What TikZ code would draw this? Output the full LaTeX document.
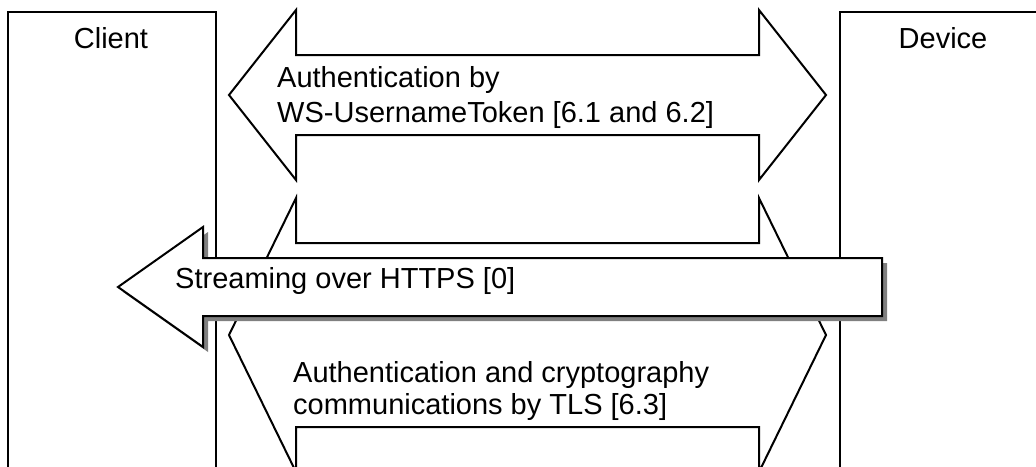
\documentclass[tikz,border=0pt]{standalone}
\usepackage{fontspec}
\setmainfont{Liberation Sans}
\begin{document}
\begin{tikzpicture}[x=1pt,y=-1pt,
  boxstyle/.style={draw=black, line width=2pt, fill=white, inner sep=0pt},
  arrowshape/.style={draw=black, line width=2pt, fill=white, line join=miter},
  shadowshape/.style={fill=black!50, draw=none},
  lbl/.style={inner sep=0pt, font=\fontsize{29}{34}\selectfont}]
\useasboundingbox (0,0) rectangle (1036,466);
\clip (0,0) rectangle (1036,466);
% boxes
\node[boxstyle, minimum width=208pt, minimum height=470pt, anchor=north west] (client) at (7,11) {};
\node[boxstyle, minimum width=208pt, minimum height=470pt, anchor=north west] (device) at (839,11) {};
\node[lbl, anchor=base] (clientlbl) at (111,48) {Client};
\node[lbl, anchor=base] (devicelbl) at (943,48) {Device};
% top double arrow
\draw[arrowshape] (229,95) -- (296,10) -- (296,55) -- (759,55) -- (759,10) -- (826,95)
  -- (759,180) -- (759,135) -- (296,135) -- (296,180) -- cycle;
\node[lbl, anchor=base west] (t1) at (277,87) {Authentication by};
\node[lbl, anchor=base west] (t2) at (277,122) {WS-UsernameToken [6.1 and 6.2]};
% bottom double arrow
\draw[arrowshape] (229,335) -- (296,198) -- (296,243) -- (759,243) -- (759,198) -- (826,335)
  -- (759,472) -- (759,427) -- (296,427) -- (296,472) -- cycle;
\node[lbl, anchor=base west] (b1) at (293,382) {Authentication and cryptography};
\node[lbl, anchor=base west] (b2) at (293,414) {communications by TLS [6.3]};
% streaming arrow with shadow
\fill[shadowshape, shift={(5,5)}] (118,287) -- (203,227) -- (203,258) -- (882,258) -- (882,316)
  -- (203,316) -- (203,347) -- cycle;
\draw[arrowshape] (118,287) -- (203,227) -- (203,258) -- (882,258) -- (882,316)
  -- (203,316) -- (203,347) -- cycle;
\node[lbl, anchor=base west] (s1) at (175,288) {Streaming over HTTPS [0]};
\end{tikzpicture}
\end{document}
